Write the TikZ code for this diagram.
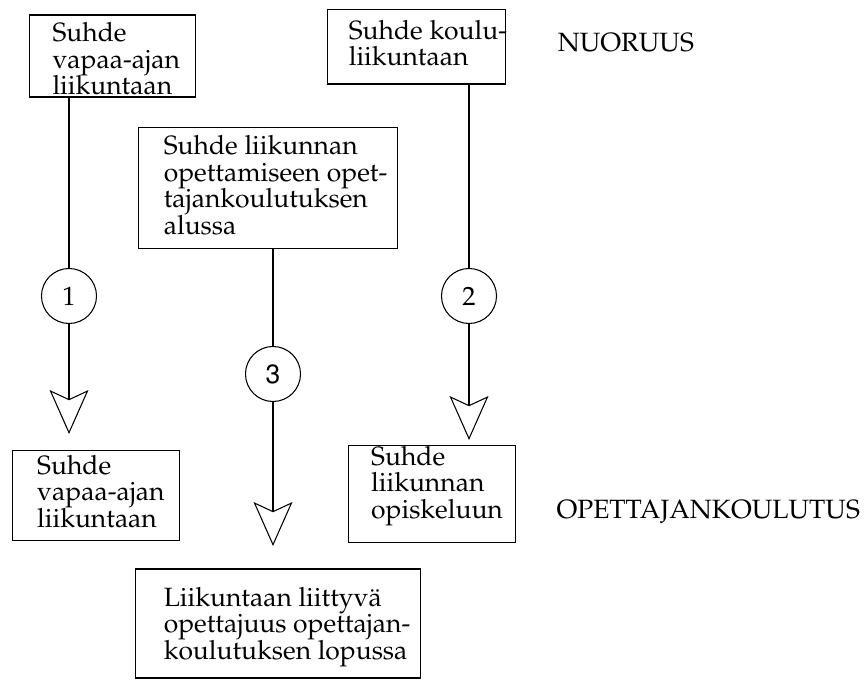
\documentclass[tikz,border=0pt]{standalone}
\usepackage[T1]{fontenc}
\renewcommand{\rmdefault}{ppl}
\usetikzlibrary{arrows.meta}
\newcommand{\boxfont}{\fontsize{10}{10}\selectfont\lineskiplimit=-10pt\relax}
\tikzstyle{box} = [rectangle, draw, inner sep=0pt]
\tikzstyle{txt} = [anchor=north west, inner sep=0pt, align=left, font=\boxfont]
\tikzstyle{phase} = [anchor=base west, inner sep=0pt, font=\boxfont]
\tikzstyle{num} = [circle, draw, minimum size=20.8pt, inner sep=0pt, font=\boxfont]
\tikzstyle{flow} = [-{Stealth[open, length=16.6pt, width=14.7pt, inset=3.4pt]}]

\begin{document}
\begin{tikzpicture}[x=0.378pt, y=-0.378pt]
\useasboundingbox (0,0) rectangle (866,680);

% Youth (top row)
\node (vapaa1) [box, minimum width=63.1pt, minimum height=31pt] at (112.5,56) {};
\node (vapaa1txt) [txt] at (52,20) {\rule{0pt}{8pt}Suhde\\vapaa-ajan\\liikuntaan};
\node (koulu) [box, minimum width=67.3pt, minimum height=28.2pt] at (416.7,46.7) {};
\node (koulutxt) [txt] at (348.3,17.5) {\rule{0pt}{8pt}Suhde koulu-\\liikuntaan};
\node (nuoruus) [phase] at (557.3,51.7) {NUORUUS};

% Start of teacher education
\node (alku) [box, minimum width=97.9pt, minimum height=45.6pt] at (267.8,188) {};
\node (alkutxt) [txt] at (163.3,133) {\rule{0pt}{8pt}Suhde liikunnan\\opettamiseen opet-\\tajankoulutuksen\\alussa};

% Numbered circles
\node (n1) [num] at (69,296) {1};
\node (n2) [num] at (469,296) {2};
\node (n3) [num] at (273,374) {\fontfamily{phv}\selectfont 3};

% Teacher education (bottom row)
\node (vapaa2) [box, minimum width=63pt, minimum height=33.8pt] at (95.7,495.4) {};
\node (vapaa2txt) [txt] at (36.7,452.5) {\rule{0pt}{8pt}Suhde\\vapaa-ajan\\liikuntaan};
\node (opiskelu) [box, minimum width=63pt, minimum height=36.9pt] at (431.7,493.9) {};
\node (opiskelutxt) [txt] at (370.7,443.5) {\rule{0pt}{8pt}Suhde\\liikunnan\\opiskeluun};
\node (otk) [phase] at (556,519) {OPETTAJANKOULUTUS};
\node (loppu) [box, minimum width=107.5pt, minimum height=41.2pt] at (277.9,623.5) {};
\node (lopputxt) [txt] at (163.3,584.5) {\rule{0pt}{8pt}Liikuntaan liittyv\"a\\opettajuus opettajan-\\koulutuksen lopussa};

% Arrow ends
\coordinate (tip1) at (69,434);
\coordinate (tip2) at (469,440);
\coordinate (tip3) at (273,546);

% Connections
\draw (vapaa1.south -| n1) -- (n1);
\draw[flow] (n1) -- (tip1);
\draw (koulu.south -| n2) -- (n2);
\draw[flow] (n2) -- (tip2);
\draw (alku.south -| n3) -- (n3);
\draw[flow] (n3) -- (tip3);
\end{tikzpicture}
\end{document}
